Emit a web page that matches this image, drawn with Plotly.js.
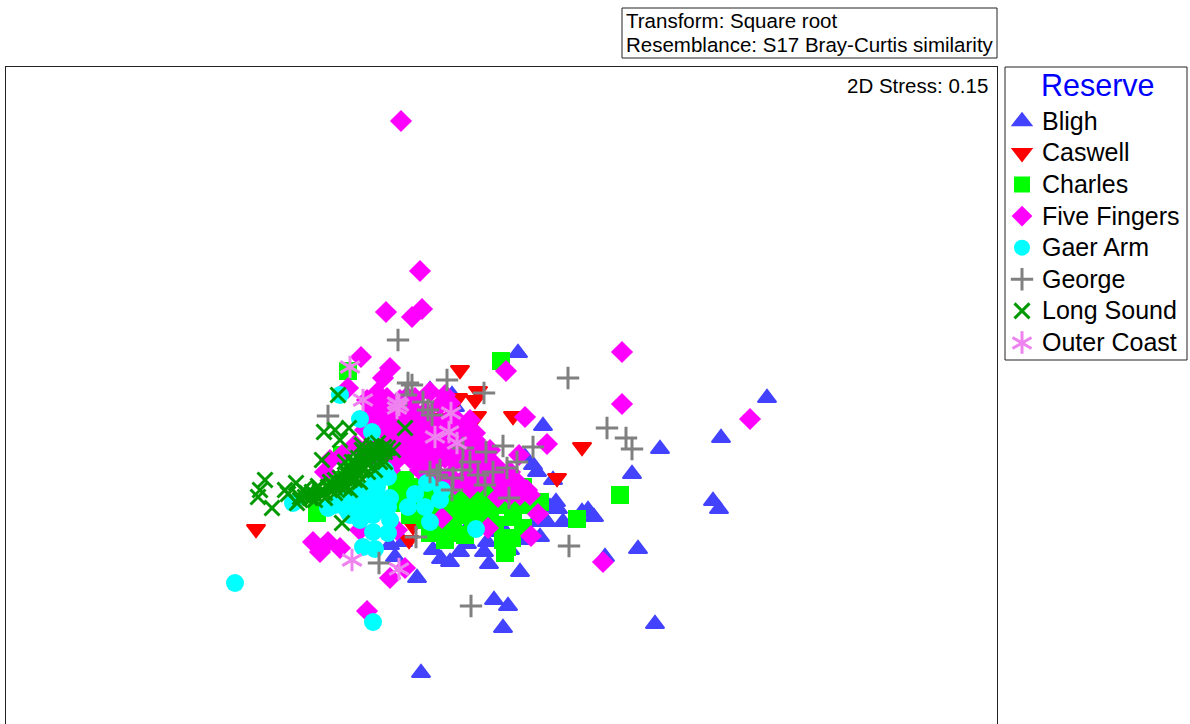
<!DOCTYPE html>
<html>
<head>
<meta charset="utf-8">
<script src="https://cdn.plot.ly/plotly-3.0.1.min.js"></script>
<style>html,body{margin:0;padding:0;background:#fff;overflow:hidden}</style>
</head>
<body>
<div id="chart" style="width:1190px;height:724px"></div>
<script>
const blighX = [518,767,721,660,632,543,430,452,713,719,588,594,582,556,558,563,638,605,655,494,508,503,421,520,417,441,450,433,484,489,403,467,537,553,547,540,533,487,390,480,490,470,525,443,455,395,510,470,500,520,478,500,490,550,535,460];
const blighY = [353,398,438,449,474,426,390,395,501,509,510,517,512,502,509,522,549,557,624,600,606,628,673,572,578,559,562,550,552,564,542,544,472,480,522,537,465,542,545,507,517,452,457,402,407,557,550,525,525,540,522,532,502,507,522,552];
const caswellX = [256,460,478,458,477,513,582,557,485,510,413,409,440,445,475];
const caswellY = [529,370,391,398,416,416,447,478,456,491,526,540,418,423,400];
const charlesX = [501,620,577,540,523,505,503,512,523,513,498,453,430,473,470,463,440,348,317,405,397,417,420,468,460,447,402,342,333,507,513,453,485,433,450,478,490,445,410,425,435,445,455,465,475,445,455,410,425,435,485,500,490,510,525,470,455,440,480,495,465,445,405];
const charlesY = [361,495,519,502,487,553,540,538,528,510,505,533,533,527,497,507,507,371,513,480,487,487,507,493,507,513,503,455,480,547,517,520,500,480,490,515,520,530,490,495,510,495,500,515,505,525,510,515,520,525,490,490,510,495,505,480,485,483,510,525,535,540,500];
const fiveFingersX = [401,420,422,412,386,361,622,622,750,506,603,367,390,405,313,320,328,340,390,383,348,367,377,387,400,407,525,547,475,519,530,538,531,488,442,498,450,490,463,517,527,360,397,325,342,330,395,410,425,440,455,470,385,400,415,430,445,460,475,375,390,405,420,435,450,465,480,495,380,395,410,425,440,455,470,485,500,365,385,400,415,430,445,510,420,435,450,465,480,440,455,470,505,515,368,378,388,398,408,418,428,438,448,458,468,372,382,392,402,412,422,432,442,452,462,472,482,375,385,395,405,415,425,435,445,455,465,475,485,495,505,355,365,378,390,400,415,430,510,520];
const fiveFingersY = [121,271,309,317,312,357,352,404,419,371,562,611,578,568,542,552,542,548,368,378,388,400,393,398,407,397,417,444,433,455,495,514,536,528,518,497,403,450,433,483,490,530,530,472,455,460,418,415,412,405,418,420,432,430,428,425,430,435,440,445,447,443,440,445,448,450,448,465,460,462,458,456,458,462,465,470,478,430,415,400,398,392,395,472,470,472,476,478,482,484,484,488,488,480,415,405,410,415,408,415,418,425,420,428,432,430,422,422,425,428,435,438,438,440,445,450,458,455,448,442,440,448,452,455,458,460,462,470,470,480,490,445,450,465,470,455,460,468,495,495];
const gaerArmX = [235,340,360,372,293,328,388,390,353,347,360,373,388,390,388,363,375,415,408,425,430,427,442,476,367,377,373,353,360,380,381,373,440,355,365,375,385,345,335,350,365,380,375];
const gaerArmY = [583,395,419,432,503,508,477,498,500,510,520,532,533,520,507,547,549,494,507,507,522,483,490,529,497,487,622,513,507,470,500,515,500,495,490,480,470,500,505,515,515,510,500];
const georgeX = [398,568,607,626,632,569,471,379,416,328,408,412,447,484,423,432,503,533,486,463,517,507,493,478,462,485,452,437,430,509,406,428,440,470,453];
const georgeY = [340,378,428,438,449,546,606,563,537,416,383,385,380,393,402,415,446,447,452,448,462,468,472,475,470,485,490,475,472,498,395,410,470,462,478];
const longSoundX = [265,260,258,272,285,296,297,300,305,310,315,320,325,330,335,340,345,350,353,358,362,365,368,372,376,380,385,375,360,350,370,365,324,335,349,338,340,405,322,345,393,362,373,342,288,303,318,330,355,380,385,377,300,307,312,318,322,328,333,338,342,348,352,357,361,366,370,375,379,384,368,355,345,335,325,315,358,364,372,378,388,362,345,350,355,340,335,345,352];
const longSoundY = [480,490,497,508,490,483,503,500,497,498,495,492,493,490,488,487,485,480,478,475,470,468,465,460,458,455,452,470,482,490,452,458,432,430,428,395,440,428,460,462,450,450,447,523,494,490,486,482,462,462,462,448,497,493,492,488,495,487,485,483,482,476,474,470,465,462,457,453,450,447,472,480,488,493,498,500,458,452,446,443,448,445,478,470,465,478,480,470,462];
const outerCoastX = [350,363,397,397,399,451,435,449,457,352,399];
const outerCoastY = [367,400,403,408,405,413,437,432,443,560,569];

const L = 6, R = 997, T = 67, B = 724;
const px = v => (v - L) / (R - L);
const py = v => (B - v) / (B - T);
const font = 'Liberation Sans, Arial, sans-serif';
const label = s => '<span style="font-size:25px">' + s + '</span>';

function pts(name, x, y, symbol, color, size, extra) {
  const lw = extra && extra.lw;
  return Object.assign({
    type: 'scatter', mode: 'markers', name: label(name), x, y,
    hoverinfo: 'name',
    marker: {
      symbol, size, color,
      angle: (extra && extra.angle) || 0,
      line: lw ? {color, width: lw} : {width: 0}
    }
  }, extra && extra.trace);
}

const traces = [
  pts('Bligh', blighX, blighY, 'triangle-up', '#4343ff', 16, {lw: 2}),
  pts('Caswell', caswellX, caswellY, 'triangle-down', '#ff0000', 16, {lw: 2}),
  pts('Charles', charlesX, charlesY, 'square', '#00ff00', 18),
  pts('Five Fingers', fiveFingersX, fiveFingersY, 'diamond', '#ff00ff', 17),
  pts('Gaer Arm', gaerArmX, gaerArmY, 'circle', '#00ffff', 18),
  pts('George', georgeX, georgeY, 'cross-thin-open', '#808080', 16, {lw: 3}),
  pts('Long Sound', longSoundX, longSoundY, 'x-thin-open', '#009900', 15, {lw: 3}),
  pts('Outer Coast', outerCoastX, outerCoastY, 'line-ns-open', '#ee82ee', 16, {lw: 3}),
  pts('Outer Coast', outerCoastX, outerCoastY, 'line-ns-open', '#ee82ee', 16, {lw: 3, angle: 60, trace: {showlegend: false}}),
  pts('Outer Coast', outerCoastX, outerCoastY, 'line-ns-open', '#ee82ee', 16, {lw: 3, angle: 120, trace: {showlegend: false}})
];

const box = (x0, y0, x1, y1) => ({
  type: 'rect', xref: 'paper', yref: 'paper',
  x0: px(x0), x1: px(x1), y0: py(y0), y1: py(y1),
  line: {color: '#222', width: 1}, fillcolor: 'rgba(0,0,0,0)'
});
const seg = (x0, y0, x1, y1) => ({
  type: 'line', xref: 'paper', yref: 'paper',
  x0: px(x0), x1: px(x1), y0: py(y0), y1: py(y1),
  line: {color: '#ee82ee', width: 3}
});
const note = (text, x, y, size, anchor, color) => ({
  text, xref: 'paper', yref: 'paper', x: px(x), y: py(y),
  xanchor: anchor, yanchor: 'middle', showarrow: false,
  font: {family: font, size, color: color || '#000'}
});

const layout = {
  width: 1190, height: 724,
  margin: {l: L, r: 1190 - R, t: T, b: 0, autoexpand: false},
  paper_bgcolor: '#fff', plot_bgcolor: '#fff',
  showlegend: true,
  font: {family: font},
  xaxis: {range: [L, R], side: 'top', showline: true, linecolor: '#222', linewidth: 1,
          showgrid: false, zeroline: false, ticks: '', showticklabels: false},
  yaxis: {range: [B, T], showline: true, mirror: true, linecolor: '#222', linewidth: 1,
          showgrid: false, zeroline: false, ticks: '', showticklabels: false},
  legend: {
    x: px(1002), y: py(100.5), xanchor: 'left', yanchor: 'top',
    font: {family: font, size: 22, color: '#000'},
    bgcolor: 'rgba(0,0,0,0)', borderwidth: 0, itemclick: false, itemdoubleclick: false
  },
  shapes: [
    box(622, 8, 997, 58),
    box(1005, 67, 1187, 360),
    seg(1012.5, 337.5, 1031.5, 348.5),
    seg(1012.5, 348.5, 1031.5, 337.5)
  ],
  annotations: [
    note('Transform: Square root', 623.5, 20, 20.5, 'left'),
    note('Resemblance: S17 Bray-Curtis similarity', 623.5, 45, 20.5, 'left'),
    note('2D Stress: 0.15', 990, 85, 20.5, 'right'),
    note('Reserve', 1039, 85, 30.5, 'left', '#0000ff')
  ]
};

Plotly.newPlot('chart', traces, layout, {displayModeBar: false, responsive: false});
</script>
</body>
</html>
